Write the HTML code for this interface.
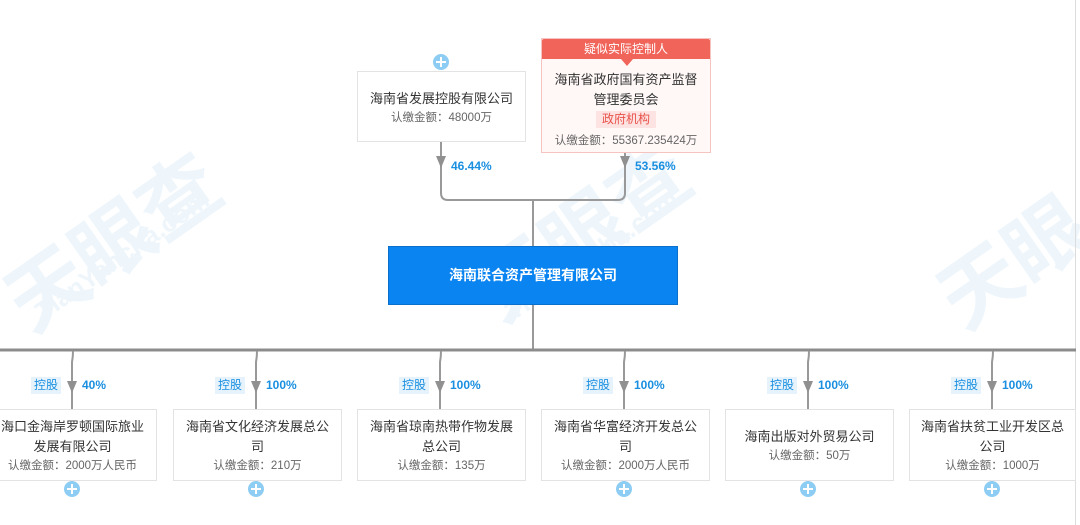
<!DOCTYPE html>
<html><head><meta charset="utf-8"><style>
body{margin:0;width:1080px;height:525px;background:#fff;position:relative;overflow:hidden;font-family:"Liberation Sans","Noto Sans CJK SC",sans-serif;}
.a{position:absolute}
.box{position:absolute;background:#fff;border:1px solid #e3e3e3;box-sizing:border-box;text-align:center;color:#333;font-size:13px}
.nm{font-size:13px;line-height:20px;color:#333}
.amt{font-size:11.5px;color:#666;line-height:18px}
.pct{position:absolute;color:#1a8fe0;font-size:12px;font-weight:bold}
.tag{position:absolute;background:#e6f3fc;color:#1a8fe0;font-size:12px;padding:0 3px;line-height:17px}
.plus{position:absolute;width:16px;height:16px;border-radius:50%;background:#8ecdf3}
.plus:before{content:"";position:absolute;left:3px;top:7px;width:10px;height:2px;background:#fff}
.plus:after{content:"";position:absolute;left:7px;top:3px;width:2px;height:10px;background:#fff}
.wm{position:absolute;color:#eef6fc;font-weight:bold;transform:rotate(-35deg);white-space:nowrap}
</style></head><body>
<div class="wm" style="left:-10px;top:180px;font-size:80px">天眼查</div>
<div class="wm" style="left:20px;top:240px;font-size:26px">TianYancha.com</div>
<div class="wm" style="left:460px;top:170px;font-size:80px">天眼查</div>
<div class="wm" style="left:490px;top:240px;font-size:26px">TianYancha.com</div>
<div class="wm" style="left:930px;top:200px;font-size:80px">天眼</div>
<div class="a" style="left:1075px;top:0;width:1px;height:525px;background:#ddd"></div>

<svg class="a" style="left:0;top:0" width="1080" height="525">
<g stroke="#999" stroke-width="2" fill="none">
<path d="M441 141 V193 Q441 200 448 200 H618 Q625 200 625 193 V152"/>
<path d="M533 200 V246"/>
<path d="M533 305 V350"/>
<path d="M0 350 H1076" stroke-width="3" stroke="#8c8c8c"/>
<path d="M73 351 Q73 357 72 362 V409"/>
<path d="M257 351 Q257 357 256 362 V409"/>
<path d="M441 351 Q441 357 440 362 V409"/>
<path d="M625 351 Q625 357 624 362 V409"/>
<path d="M809 351 Q809 357 808 362 V409"/>
<path d="M993 351 Q993 357 992 362 V409"/>
</g>
<g fill="#909090">
<path d="M436 156 h10 l-5 12z"/><path d="M620 156 h10 l-5 12z"/>
<path d="M67 381 h10 l-5 12z"/><path d="M251 381 h10 l-5 12z"/><path d="M435 381 h10 l-5 12z"/>
<path d="M619 381 h10 l-5 12z"/><path d="M803 381 h10 l-5 12z"/><path d="M987 381 h10 l-5 12z"/>
</g>
</svg>

<div class="plus" style="left:433px;top:54px"></div>
<div class="box" style="left:357px;top:71px;width:169px;height:71px;padding-top:17px"><div class="nm">海南省发展控股有限公司</div><div class="amt">认缴金额：48000万</div></div>
<div class="pct" style="left:451px;top:159px">46.44%</div>

<div class="box" style="left:541px;top:38px;width:170px;height:115px;border-color:#f5c4c0;background:#fff8f7">
<div style="background:#f0645a;color:#fff;font-size:12px;line-height:20px;height:20px;border-radius:2px 2px 0 0">疑似实际控制人</div>
<div class="a" style="left:79px;top:20px;width:0;height:0;border-left:6px solid transparent;border-right:6px solid transparent;border-top:7px solid #f0645a"></div>
<div class="nm" style="margin-top:11px;line-height:20px">海南省政府国有资产监督<br>管理委员会</div>
<div style="display:inline-block;background:#fde3e1;color:#e9524a;font-size:12px;line-height:17px;padding:0 6px;margin-top:1px">政府机构</div>
<div class="amt" style="margin-top:4px">认缴金额：55367.235424万</div>
</div>
<div class="pct" style="left:635px;top:159px">53.56%</div>

<div class="a" style="left:388px;top:246px;width:290px;height:59px;background:#0a84f0;border:1px solid #0b6fcc;box-sizing:border-box;color:#fff;font-weight:bold;font-size:14px;line-height:57px;text-align:center">海南联合资产管理有限公司</div>

<div class="tag" style="left:31px;top:377px">控股</div><div class="pct" style="left:82px;top:378px">40%</div>
<div class="tag" style="left:215px;top:377px">控股</div><div class="pct" style="left:266px;top:378px">100%</div>
<div class="tag" style="left:399px;top:377px">控股</div><div class="pct" style="left:450px;top:378px">100%</div>
<div class="tag" style="left:583px;top:377px">控股</div><div class="pct" style="left:634px;top:378px">100%</div>
<div class="tag" style="left:767px;top:377px">控股</div><div class="pct" style="left:818px;top:378px">100%</div>
<div class="tag" style="left:951px;top:377px">控股</div><div class="pct" style="left:1002px;top:378px">100%</div>

<div class="box" style="left:-12px;top:409px;width:169px;height:72px;padding-top:7px"><div class="nm">海口金海岸罗顿国际旅业<br>发展有限公司</div><div class="amt">认缴金额：2000万人民币</div></div>
<div class="box" style="left:173px;top:409px;width:169px;height:72px;padding-top:7px"><div class="nm">海南省文化经济发展总公<br>司</div><div class="amt">认缴金额：210万</div></div>
<div class="box" style="left:357px;top:409px;width:169px;height:72px;padding-top:7px"><div class="nm">海南省琼南热带作物发展<br>总公司</div><div class="amt">认缴金额：135万</div></div>
<div class="box" style="left:541px;top:409px;width:169px;height:72px;padding-top:7px"><div class="nm">海南省华富经济开发总公<br>司</div><div class="amt">认缴金额：2000万人民币</div></div>
<div class="box" style="left:725px;top:409px;width:169px;height:72px;padding-top:17px"><div class="nm">海南出版对外贸易公司</div><div class="amt">认缴金额：50万</div></div>
<div class="box" style="left:909px;top:409px;width:167px;height:72px;padding-top:7px"><div class="nm">海南省扶贫工业开发区总<br>公司</div><div class="amt">认缴金额：1000万</div></div>

<div class="plus" style="left:64px;top:481px"></div>
<div class="plus" style="left:248px;top:481px"></div>
<div class="plus" style="left:616px;top:481px"></div>
<div class="plus" style="left:800px;top:481px"></div>
<div class="plus" style="left:984px;top:481px"></div>
</body></html>
